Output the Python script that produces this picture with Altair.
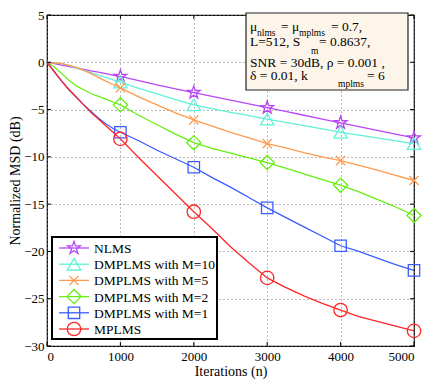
import altair as alt
import pandas as pd

n = [0, 100, 200, 300, 400, 500, 600, 700, 800, 900, 1000, 1250, 1500, 1750, 2000,
     2250, 2500, 2750, 3000, 3250, 3500, 3750, 4000, 4250, 4500, 4750, 5000]

nlms = [0, -0.15, -0.3, -0.45, -0.6, -0.75, -0.9, -1.05, -1.2, -1.35, -1.5, -1.95, -2.4, -2.8, -3.2,
        -3.6, -4.0, -4.4, -4.8, -5.2, -5.6, -6.0, -6.4, -6.8, -7.2, -7.6, -8.0]
m10 = [0, -0.05, -0.15, -0.35, -0.6, -0.85, -1.1, -1.35, -1.6, -1.85, -2.1, -2.75, -3.35, -3.95, -4.5,
       -4.9, -5.3, -5.65, -6.0, -6.35, -6.7, -7.05, -7.4, -7.7, -8.0, -8.3, -8.6]
m5 = [0, -0.05, -0.15, -0.3, -0.55, -0.85, -1.2, -1.6, -2.0, -2.35, -2.7, -3.65, -4.5, -5.35, -6.1,
      -6.75, -7.4, -8.0, -8.6, -9.05, -9.55, -10.0, -10.4, -10.9, -11.4, -11.95, -12.5]
m2 = [0, -0.5, -1.2, -1.9, -2.5, -2.9, -3.3, -3.6, -3.9, -4.2, -4.5, -5.6, -6.6, -7.6, -8.5,
      -9.1, -9.6, -10.1, -10.6, -11.2, -11.8, -12.4, -13.0, -13.7, -14.5, -15.3, -16.2]
m1 = [0, -1.0, -2.0, -2.9, -3.7, -4.5, -5.2, -5.9, -6.5, -7.0, -7.4, -8.3, -9.3, -10.2, -11.1,
      -12.2, -13.2, -14.3, -15.4, -16.4, -17.4, -18.4, -19.4, -20.0, -20.7, -21.4, -22.0]
mplms = [0, -1.0, -2.0, -2.9, -3.7, -4.5, -5.3, -6.0, -6.7, -7.4, -8.1, -10.1, -12.0, -13.9, -15.8,
         -17.6, -19.5, -21.2, -22.8, -23.8, -24.7, -25.5, -26.2, -26.9, -27.4, -27.9, -28.4]

series_names = ["NLMS", "DMPLMS with M=10", "DMPLMS with M=5", "DMPLMS with M=2",
                "DMPLMS with M=1", "MPLMS"]
series_values = [nlms, m10, m5, m2, m1, mplms]
marker_n = [1000, 2000, 3000, 4000, 5000]
x_ticks = [0, 1000, 2000, 3000, 4000, 5000]
y_ticks = [-30, -25, -20, -15, -10, -5, 0, 5]

colors = ["#b847f5", "#5ff2d8", "#ff9a50", "#66ee11", "#3a5cff", "#ff2626"]
STAR = "M0,-1L0.2245,-0.309L0.951,-0.309L0.363,0.118L0.588,0.809L0,0.382L-0.588,0.809L-0.363,0.118L-0.951,-0.309L-0.2245,-0.309Z"
XSHAPE = "M-0.8,-0.8L0.8,0.8M-0.8,0.8L0.8,-0.8"
shapes = [STAR, "triangle-up", XSHAPE, "diamond", "square", "circle"]
sizes = [180, 180, 130, 200, 130, 180]

rows = []
for name, vals in zip(series_names, series_values):
    for x, y in zip(n, vals):
        rows.append({"series": name, "n": x, "msd": y, "marker": x in marker_n})
df = pd.DataFrame(rows)

W, H = 367, 331
FONT = "Liberation Serif"

xscale = alt.Scale(domain=[0, 5000], nice=False)
yscale = alt.Scale(domain=[-30, 5], nice=False)
xs = alt.X("n:Q", scale=xscale,
           axis=alt.Axis(values=x_ticks, format="d", title="Iterations (n)",
                         grid=True, gridDash=[1, 3], gridColor="#777", gridWidth=1,
                         domain=False, ticks=False, labelPadding=4, titlePadding=1,
                         labelFont=FONT, titleFont=FONT))
ys = alt.Y("msd:Q", scale=yscale,
           axis=alt.Axis(values=y_ticks, title="Normalized MSD (dB)",
                         grid=True, gridDash=[1, 3], gridColor="#777", gridWidth=1,
                         domain=False, ticks=False, labelPadding=3,
                         labelFont=FONT, titleFont=FONT,
                         titleX=-32, titleY=H / 2, titleAngle=-90, titleAlign="center",
                         titleBaseline="middle"))

layers = []
for i, name in enumerate(series_names):
    sub = df[df.series == name]
    line = alt.Chart(sub).mark_line(color=colors[i], strokeWidth=1.3).encode(x=xs, y=ys)
    pts = alt.Chart(sub[sub.marker]).mark_point(
        shape=shapes[i], color=colors[i], filled=False, size=sizes[i], strokeWidth=1.3, opacity=1
    ).encode(x="n:Q", y="msd:Q")
    layers += [line, pts]

# Inward ticks on all four sides
xt = alt.Chart(pd.DataFrame({"n": x_ticks}))
yt = alt.Chart(pd.DataFrame({"msd": y_ticks}))
layers.append(xt.mark_rule(color="black", strokeWidth=1).encode(
    x="n:Q", y=alt.value(H), y2=alt.value(H - 4)))
layers.append(xt.mark_rule(color="black", strokeWidth=1).encode(
    x="n:Q", y=alt.value(0), y2=alt.value(4)))
layers.append(yt.mark_rule(color="black", strokeWidth=1).encode(
    y="msd:Q", x=alt.value(0), x2=alt.value(4)))
layers.append(yt.mark_rule(color="black", strokeWidth=1).encode(
    y="msd:Q", x=alt.value(W), x2=alt.value(W - 4)))

# Legend (manual, MATLAB-style)
LX0, LX1, LY0, LY1 = 5, 170, 222, 324
leg_box = alt.Chart(pd.DataFrame({"a": [0]})).mark_rect(
    fill="white", stroke="black", strokeWidth=2
).encode(x=alt.value(LX0), x2=alt.value(LX1), y=alt.value(LY0), y2=alt.value(LY1))
layers.append(leg_box)
for i, name in enumerate(series_names):
    yy = 233 + i * 16.2
    one = alt.Chart(pd.DataFrame({"label": [name]}))
    layers.append(one.mark_rule(color=colors[i], strokeWidth=1.3).encode(
        x=alt.value(12), x2=alt.value(42), y=alt.value(yy)))
    layers.append(one.mark_point(shape=shapes[i], color=colors[i], filled=False, size=sizes[i],
                                 strokeWidth=1.3, opacity=1).encode(x=alt.value(27), y=alt.value(yy)))
    layers.append(one.mark_text(align="left", baseline="middle", font=FONT, fontSize=13.5,
                                color="black").encode(x=alt.value(47), y=alt.value(yy + 1),
                                                      text="label:N"))

# Annotation box
ann_box = alt.Chart(pd.DataFrame({"a": [0]})).mark_rect(
    fill="#fdf5ea", stroke="#222", strokeWidth=1.2
).encode(x=alt.value(199), x2=alt.value(361), y=alt.value(-2), y2=alt.value(75))
layers.append(ann_box)

ann_parts = [
    ("\u03bc", 203, 12, 13.5), ("nlms", 210, 18, 9.5), ("= \u03bc", 234, 12, 13.5),
    ("mplms", 252, 18, 9.5), ("= 0.7,", 284, 12, 13.5),
    ("L=512, S", 203, 27, 13.5), ("m", 264, 36, 9.5), ("= 0.8637,", 272, 27, 13.5),
    ("SNR = 30dB, \u03c1 = 0.001 ,", 203, 48, 13.5),
    ("\u03b4 = 0.01, k", 203, 61, 13.5), ("mplms", 291, 69, 9.5), ("= 6", 320, 61, 13.5),
]
for txt, x, y, fs in ann_parts:
    layers.append(alt.Chart(pd.DataFrame({"t": [txt]})).mark_text(
        align="left", baseline="middle", font=FONT, fontSize=fs, color="black"
    ).encode(x=alt.value(x), y=alt.value(y), text="t:N"))

chart = alt.layer(*layers).properties(
    width=W, height=H,
    autosize=alt.AutoSizeParams(type="none"),
    padding={"left": 39, "top": 7, "right": 10, "bottom": 40},
).configure(font=FONT).configure_view(stroke="black", strokeWidth=1.2).configure_axis(
    labelFont=FONT, titleFont=FONT, labelFontSize=13, titleFontSize=14,
    labelColor="black", titleColor="black", titleFontWeight="normal"
)

chart.save("out.html", embed_options={"renderer": "svg", "actions": False})
